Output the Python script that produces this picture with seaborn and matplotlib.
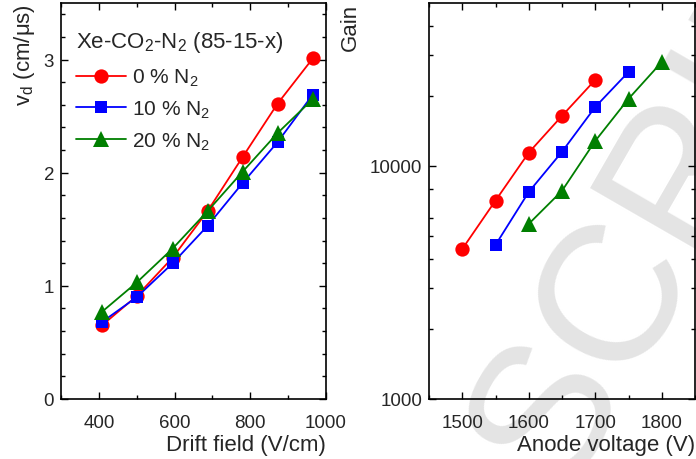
import numpy as np
import pandas as pd
import matplotlib
matplotlib.use("Agg")
import matplotlib.pyplot as plt
import matplotlib.ticker as mticker
import seaborn as sns

# ---- data ----
series = ["0 % N$_2$", "10 % N$_2$", "20 % N$_2$"]
colors = ["#ff0000", "#0000ff", "#007f00"]
markers = ["o", "s", "^"]

drift_field = [408, 500, 595, 687, 780, 872, 965]
vd_0 = [0.65, 0.91, 1.25, 1.66, 2.14, 2.61, 3.01]
vd_10 = [0.68, 0.90, 1.20, 1.53, 1.91, 2.27, 2.69]
vd_20 = [0.77, 1.03, 1.33, 1.66, 2.01, 2.35, 2.65]

volt_0 = [1500, 1550, 1600, 1650, 1700]
gain_0 = [4400, 7100, 11400, 16400, 23400]
volt_10 = [1550, 1600, 1650, 1700, 1750]
gain_10 = [4580, 7730, 11500, 17900, 25300]
volt_20 = [1600, 1650, 1700, 1750, 1800]
gain_20 = [5640, 7820, 12800, 19400, 27900]

sns.set_theme(style="ticks")
plt.rcParams["font.family"] = ["Liberation Sans", "DejaVu Sans"]
plt.rcParams["mathtext.fontset"] = "custom"
plt.rcParams["mathtext.rm"] = "Liberation Sans"
plt.rcParams["mathtext.it"] = "Liberation Sans:italic"

df_v = pd.DataFrame({
    "x": drift_field * 3,
    "y": vd_0 + vd_10 + vd_20,
    "s": [series[0]] * 7 + [series[1]] * 7 + [series[2]] * 7,
})
df_g = pd.DataFrame({
    "x": volt_0 + volt_10 + volt_20,
    "y": gain_0 + gain_10 + gain_20,
    "s": [series[0]] * 5 + [series[1]] * 5 + [series[2]] * 5,
})

pal = dict(zip(series, colors))
mk = dict(zip(series, markers))
msize = {"o": 10.3, "s": 8.0, "^": 11.0}

fig = plt.figure(figsize=(6.96, 4.60), dpi=100)
fig.patch.set_facecolor("white")
ax1 = fig.add_axes([61/696, 1-400/460, (326-61)/696, 396/460])
ax2 = fig.add_axes([429/696, 1-400/460, (695-429)/696, 396/460])
for ax in (ax1, ax2):
    ax.set_facecolor("none")

# watermark
fig.text(560/696, 1-495/460, "SCRIPT", fontsize=140, color="#e4e4e4",
         rotation=60, rotation_mode="anchor", ha="left", va="baseline",
         zorder=-5, family="Liberation Sans")

for ax, df in ((ax1, df_v), (ax2, df_g)):
    sns.lineplot(data=df, x="x", y="y", hue="s", style="s", palette=pal,
                 markers=mk, dashes=False, markersize=10, markeredgewidth=0,
                 linewidth=1.3, ax=ax, legend=(ax is ax1))

for ax in (ax1, ax2):
    for ln in ax.get_lines():
        m = ln.get_marker()
        if m in msize:
            ln.set_markersize(msize[m])

ax1.set_xlim(300, 1000)
ax1.set_ylim(0, 3.5)
ax1.xaxis.set_major_locator(mticker.MultipleLocator(200))
ax1.xaxis.set_minor_locator(mticker.MultipleLocator(100))
ax1.yaxis.set_major_locator(mticker.MultipleLocator(1))
ax1.yaxis.set_minor_locator(mticker.MultipleLocator(0.2))
ax1.set_xlabel("Drift field (V/cm)", fontsize=16, loc="right", labelpad=2)
ax1.set_ylabel("v$_\\mathrm{d}$ (cm/\u03bcs)", fontsize=16, loc="top", labelpad=5)

ax2.set_yscale("log")
ax2.set_xlim(1450, 1850)
ax2.set_ylim(1000, 50000)
ax2.xaxis.set_major_locator(mticker.MultipleLocator(100))
ax2.xaxis.set_minor_locator(mticker.MultipleLocator(50))
ax2.yaxis.set_major_locator(mticker.FixedLocator([1000, 10000]))
ax2.yaxis.set_major_formatter(mticker.FuncFormatter(lambda v, p: f"{int(v)}"))
ax2.yaxis.set_minor_locator(mticker.FixedLocator(
    [2000, 3000, 4000, 5000, 6000, 8000, 20000, 30000, 40000]))
ax2.yaxis.set_minor_formatter(mticker.NullFormatter())
ax2.set_xlabel("Anode voltage (V)", fontsize=16, loc="right", labelpad=2)
ax2.set_ylabel("Gain", fontsize=16, loc="top", labelpad=6)

for ax in (ax1, ax2):
    ax.tick_params(which="both", direction="in", top=True, right=True,
                   labelsize=13.5, color="black", width=1)
    ax.tick_params(which="major", length=5)
    ax.tick_params(axis="y", which="major", pad=5)
    ax.tick_params(axis="x", which="major", pad=11)
    ax.tick_params(which="minor", length=3)
    for sp in ax.spines.values():
        sp.set_visible(True)
        sp.set_color("black")
        sp.set_linewidth(1.2)

h, l = ax1.get_legend_handles_labels()
leg = ax1.legend(h, l, title="Xe-CO$_2$-N$_2$ (85-15-x)", loc="upper left",
                 bbox_to_anchor=(0.01, 0.965), frameon=False, fontsize=15,
                 title_fontsize=16, handlelength=2.4, handletextpad=0.3,
                 labelspacing=0.5, borderpad=0.4, borderaxespad=0.2)
leg._legend_box.align = "left"
leg._legend_box.sep = 9

fig.savefig("out.png", dpi=100, facecolor="white")
